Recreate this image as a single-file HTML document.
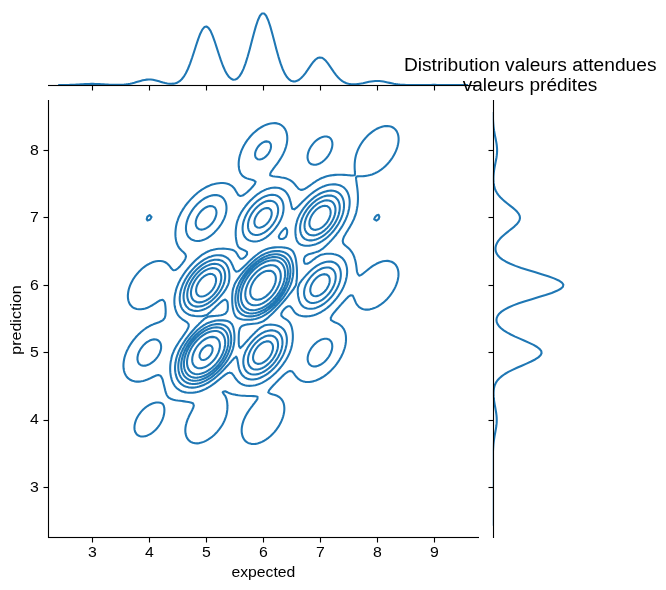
<!DOCTYPE html>
<html lang="fr"><head><meta charset="utf-8"><title>Distribution valeurs attendues / valeurs prédites</title><style>html,body{margin:0;padding:0;background:#fff}body{width:666px;height:590px;overflow:hidden}.w{width:666px;height:590px;will-change:transform}svg{display:block}text{font-family:"Liberation Sans",sans-serif;fill:#000}.k{fill:none;stroke:#1f77b4;stroke-width:2.08;stroke-linejoin:round;stroke-linecap:butt}.ax{fill:#000}</style></head><body>
<div class="w"><svg width="666" height="590" viewBox="0 0 666 590">
<rect width="666" height="590" fill="#fff"/>
<defs><clipPath id="cj"><rect x="48.15" y="100.70" width="429.80" height="436.42"/></clipPath>
<clipPath id="cx"><rect x="48.15" y="9.85" width="429.80" height="75.25"/></clipPath>
<clipPath id="cy"><rect x="492.77" y="100.70" width="74.10" height="436.42"/></clipPath></defs>
<g class="k" clip-path="url(#cj)">
<path d="M192.94,442.82L195.02,443.27L197.18,443.35L199.34,443.11L200.51,442.82L201.50,442.60L203.66,441.87L205.82,440.87L206.25,440.63L207.98,439.68L209.83,438.43L210.13,438.23L212.29,436.58L212.69,436.24L214.45,434.67L215.09,434.05L216.61,432.47L217.19,431.85L218.77,429.95L219.01,429.66L220.63,427.47L220.93,427.00L222.08,425.27L223.09,423.43L223.30,423.08L224.39,420.89L225.25,418.69L225.25,418.68L226.03,416.50L226.60,414.31L227.01,412.12L227.28,409.92L227.41,407.73L227.41,407.73L227.42,405.54L227.41,405.46L227.28,403.34L226.99,401.15L226.49,398.96L225.64,396.76L225.25,395.95L224.15,394.57L223.09,393.00L222.73,392.38L223.09,391.79L225.25,391.20L227.41,392.19L227.72,392.38L229.57,393.33L231.73,394.00L233.89,394.46L234.48,394.57L236.05,394.87L238.21,395.20L240.37,395.47L242.53,395.67L244.69,395.81L246.85,395.92L249.01,395.99L251.17,396.05L253.33,396.14L255.49,396.32L257.53,396.76L257.46,398.96L255.97,401.15L255.49,401.68L254.27,403.34L253.33,404.48L252.57,405.54L251.17,407.39L250.93,407.73L249.36,409.92L249.01,410.45L247.89,412.12L246.85,413.88L246.59,414.31L245.39,416.50L244.69,418.03L244.36,418.69L243.46,420.89L242.78,423.08L242.53,424.13L242.23,425.27L241.84,427.47L241.66,429.66L241.69,431.85L241.96,434.05L242.53,436.24L242.53,436.25L243.48,438.43L244.69,440.21L245.05,440.63L246.85,442.17L248.04,442.82L249.01,443.28L251.17,443.85L253.33,444.01L255.49,443.87L257.65,443.44L259.57,442.82L259.81,442.75L261.97,441.87L264.13,440.72L264.28,440.63L266.29,439.40L267.61,438.43L268.45,437.82L270.31,436.24L270.61,435.98L272.61,434.05L272.77,433.89L274.62,431.85L274.93,431.48L276.39,429.66L277.09,428.68L277.95,427.47L279.25,425.34L279.29,425.27L280.52,423.08L281.41,421.14L281.53,420.89L282.44,418.69L283.15,416.50L283.57,414.77L283.70,414.31L284.11,412.12L284.33,409.92L284.34,407.73L284.13,405.54L283.63,403.34L283.57,403.18L282.75,401.15L281.41,399.10L281.29,398.96L279.25,397.09L278.71,396.76L277.09,395.83L274.93,395.01L273.22,394.57L272.77,394.41L270.61,393.72L268.45,392.59L268.24,392.38L268.45,392.08L269.18,390.18L270.61,388.54L270.94,387.99L272.77,386.02L272.94,385.80L274.93,383.72L275.02,383.61L277.09,381.48L277.15,381.41L279.25,379.29L279.32,379.22L281.41,377.16L281.55,377.03L283.57,375.12L283.91,374.83L285.73,373.26L286.65,372.64L287.89,371.73L290.05,370.90L292.21,371.55L293.16,372.64L294.37,374.12L294.82,374.83L296.51,377.03L296.53,377.05L298.69,379.15L298.78,379.22L300.85,380.54L303.01,381.36L303.22,381.41L305.17,381.85L307.33,382.03L309.49,381.94L311.65,381.63L312.50,381.41L313.81,381.13L315.97,380.46L318.12,379.56L318.79,379.22L320.28,378.52L322.44,377.26L322.79,377.03L324.60,375.87L325.97,374.83L326.76,374.24L328.65,372.64L328.92,372.41L331.01,370.45L331.08,370.37L333.11,368.25L333.24,368.11L335.02,366.06L335.40,365.57L336.74,363.87L337.56,362.68L338.28,361.67L339.64,359.48L339.72,359.33L340.93,357.29L341.88,355.32L342.00,355.10L343.02,352.90L343.83,350.71L344.04,350.01L344.57,348.52L345.16,346.32L345.59,344.13L345.87,341.94L346.01,339.74L345.99,337.55L345.80,335.36L345.39,333.16L344.69,330.97L344.04,329.59L343.61,328.78L341.96,326.59L341.88,326.50L339.72,324.67L339.27,324.39L337.56,323.38L335.40,322.44L334.72,322.20L333.24,321.45L331.08,320.12L330.94,320.01L330.75,317.81L331.08,317.27L331.89,315.62L333.24,313.72L333.43,313.43L335.20,311.23L335.40,311.01L337.09,309.04L337.56,308.51L339.02,306.85L339.72,306.03L340.97,304.66L341.88,303.57L342.93,302.46L344.04,301.15L344.94,300.27L346.20,298.82L347.08,298.08L348.36,296.71L349.69,295.88L350.52,295.17L352.68,295.47L352.90,295.88L353.90,298.08L354.84,300.27L354.84,300.28L355.73,302.46L357.00,304.65L357.01,304.66L358.90,306.85L359.16,307.08L361.32,308.48L362.83,309.04L363.48,309.26L365.64,309.61L367.80,309.62L369.96,309.35L371.17,309.04L372.12,308.83L374.28,308.11L376.44,307.13L376.93,306.85L378.60,305.96L380.58,304.66L380.76,304.54L382.92,302.93L383.46,302.46L385.08,301.06L385.89,300.27L387.24,298.90L388.00,298.08L389.40,296.42L389.84,295.88L391.46,293.69L391.56,293.54L392.92,291.50L393.72,290.10L394.19,289.30L395.30,287.11L395.88,285.72L396.24,284.92L397.04,282.72L397.66,280.53L398.04,278.67L398.11,278.34L398.42,276.15L398.51,273.95L398.37,271.76L398.04,269.97L397.96,269.57L397.20,267.37L395.94,265.18L395.88,265.10L393.74,262.99L393.72,262.97L391.56,261.77L389.40,261.13L387.24,260.90L385.08,260.99L382.92,261.33L380.76,261.93L378.60,262.78L378.17,262.99L376.44,263.79L374.28,265.04L374.07,265.18L372.12,266.43L370.82,267.37L369.96,268.00L367.99,269.57L367.80,269.72L365.64,271.51L365.30,271.76L363.48,273.29L362.47,273.95L361.32,274.89L359.16,275.71L357.79,273.95L357.03,271.76L357.00,271.65L356.75,269.57L356.49,267.37L356.19,265.18L355.82,262.99L355.34,260.79L354.84,259.05L354.73,258.60L354.04,256.41L353.08,254.21L352.68,253.49L351.83,252.02L350.52,250.28L350.12,249.83L348.36,248.06L347.85,247.64L346.20,246.23L345.17,245.44L344.04,244.26L343.23,243.25L342.71,241.06L343.15,238.86L344.00,236.67L344.04,236.60L345.28,234.48L346.20,232.82L346.54,232.28L347.91,230.09L348.36,229.29L349.28,227.90L350.47,225.70L350.52,225.60L351.80,223.51L352.68,221.57L352.83,221.32L353.95,219.13L354.73,216.93L354.84,216.56L355.58,214.74L356.23,212.55L356.70,210.35L357.00,208.43L357.06,208.16L357.45,205.97L357.70,203.77L357.87,201.58L357.95,199.39L357.95,197.19L357.89,195.00L357.76,192.81L357.57,190.62L357.33,188.42L357.03,186.23L357.00,186.00L356.75,184.04L356.46,181.84L356.17,179.65L356.02,177.46L357.00,176.37L359.16,176.25L361.32,176.21L363.48,176.11L365.64,175.90L367.80,175.54L368.93,175.26L369.96,175.05L372.12,174.42L374.28,173.58L375.32,173.07L376.44,172.57L378.60,171.36L379.31,170.88L380.76,169.95L382.40,168.69L382.92,168.29L384.97,166.49L385.08,166.39L387.18,164.30L387.24,164.23L389.12,162.11L389.40,161.76L390.85,159.91L391.56,158.89L392.37,157.72L393.68,155.53L393.72,155.46L394.89,153.33L395.88,151.14L395.88,151.14L396.78,148.95L397.48,146.75L398.00,144.56L398.04,144.35L398.40,142.37L398.60,140.18L398.58,137.98L398.32,135.79L398.04,134.67L397.75,133.60L396.77,131.40L395.88,130.09L395.11,129.21L393.72,128.00L391.95,127.02L391.56,126.83L389.40,126.20L387.24,125.99L385.08,126.09L382.92,126.48L381.15,127.02L380.76,127.13L378.60,127.96L376.44,129.05L376.18,129.21L374.28,130.32L372.75,131.40L372.12,131.84L369.97,133.60L369.96,133.60L367.80,135.59L367.60,135.79L365.64,137.87L365.54,137.98L363.71,140.18L363.48,140.48L362.08,142.37L361.32,143.54L360.65,144.56L359.41,146.75L359.16,147.26L358.29,148.95L357.37,151.14L357.00,152.20L356.57,153.33L355.91,155.53L355.41,157.72L355.05,159.91L354.84,161.87L354.81,162.11L354.66,164.30L354.63,166.49L354.69,168.69L354.82,170.88L354.84,171.42L354.97,173.07L354.84,174.90L354.65,175.26L352.68,175.49L350.52,175.37L349.28,175.26L348.36,175.20L346.20,175.01L344.04,174.86L341.88,174.75L339.72,174.72L337.56,174.75L335.40,174.88L333.24,175.10L332.25,175.26L331.08,175.40L328.92,175.75L326.76,176.24L324.60,176.94L323.41,177.46L322.44,177.78L320.28,178.71L318.72,179.65L318.12,179.94L315.97,181.22L315.11,181.84L313.81,182.65L311.97,184.04L311.65,184.25L309.49,185.79L308.89,186.23L307.33,187.27L305.59,188.42L305.17,188.69L303.01,189.63L300.85,189.90L298.69,188.87L298.26,188.42L296.53,186.43L296.39,186.23L294.65,184.04L294.37,183.73L292.43,181.84L292.21,181.66L290.05,180.17L289.00,179.65L287.89,179.11L285.73,178.34L283.57,177.81L281.49,177.46L281.41,177.44L279.25,177.09L277.09,176.82L274.93,176.55L272.77,176.21L270.61,175.54L270.14,175.26L270.38,173.07L270.61,172.79L271.77,170.88L272.77,169.61L273.39,168.69L274.93,166.64L275.03,166.49L276.69,164.30L277.09,163.76L278.28,162.11L279.25,160.65L279.75,159.91L281.11,157.72L281.41,157.18L282.39,155.53L283.46,153.33L283.57,153.09L284.50,151.14L285.33,148.95L285.73,147.61L286.02,146.75L286.61,144.56L287.00,142.37L287.24,140.18L287.30,137.98L287.17,135.79L286.81,133.60L286.16,131.40L285.73,130.42L285.14,129.21L283.57,127.04L283.55,127.02L281.41,125.17L280.79,124.82L279.25,124.04L277.09,123.40L274.93,123.14L272.77,123.17L270.61,123.45L268.45,123.96L266.29,124.72L266.07,124.82L264.13,125.62L261.97,126.77L261.57,127.02L259.81,128.06L258.21,129.21L257.65,129.60L255.49,131.35L255.43,131.40L253.33,133.29L253.02,133.60L251.17,135.50L250.91,135.79L249.04,137.98L249.01,138.02L247.33,140.18L246.85,140.87L245.81,142.37L244.69,144.23L244.48,144.56L243.26,146.75L242.53,148.32L242.22,148.95L241.27,151.14L240.52,153.33L240.37,153.87L239.85,155.53L239.33,157.72L238.96,159.91L238.74,162.11L238.67,164.30L238.76,166.49L239.04,168.69L239.58,170.88L240.37,172.86L240.47,173.07L241.98,175.26L242.53,175.85L244.69,177.38L244.86,177.46L246.85,178.38L249.01,179.05L251.17,179.54L251.77,179.65L253.33,180.20L255.49,181.64L255.64,181.84L255.49,182.10L254.75,184.04L253.33,185.82L253.07,186.23L251.17,188.31L251.08,188.42L249.01,190.50L248.89,190.62L246.85,192.47L246.45,192.81L244.69,194.21L243.44,195.00L242.53,195.58L240.37,196.07L238.37,195.00L238.21,194.88L236.94,192.81L236.05,191.35L235.66,190.62L234.26,188.42L233.89,187.96L232.22,186.23L231.73,185.83L229.57,184.56L228.13,184.04L227.41,183.80L225.25,183.32L223.09,183.08L220.93,183.05L218.77,183.19L216.61,183.51L214.45,184.01L214.36,184.04L212.29,184.57L210.13,185.33L208.15,186.23L207.98,186.30L205.82,187.31L203.95,188.42L203.66,188.58L201.50,189.92L200.55,190.62L199.34,191.46L197.65,192.81L197.18,193.18L195.10,195.00L195.02,195.08L192.86,197.13L192.79,197.19L190.70,199.37L190.68,199.39L188.73,201.58L188.54,201.81L186.91,203.77L186.38,204.50L185.25,205.97L184.22,207.52L183.75,208.16L182.38,210.35L182.06,210.95L181.08,212.55L180.01,214.74L179.90,215.00L178.93,216.93L178.09,219.13L177.74,220.26L177.33,221.32L176.67,223.51L176.18,225.70L175.83,227.90L175.59,230.09L175.58,230.28L175.43,232.28L175.40,234.48L175.52,236.67L175.58,237.13L175.76,238.86L176.17,241.06L176.79,243.25L177.72,245.44L177.74,245.47L178.99,247.64L179.90,248.82L180.85,249.83L182.06,251.00L183.29,252.02L184.22,252.95L185.36,254.21L185.99,256.41L185.42,258.60L184.33,260.79L184.22,260.96L182.73,262.99L182.06,263.87L180.91,265.18L179.90,266.39L178.84,267.37L177.74,268.50L176.14,269.57L175.58,270.01L173.42,270.26L172.51,269.57L171.26,268.37L170.61,267.37L169.10,265.41L168.91,265.18L166.94,263.28L166.51,262.99L164.78,262.00L162.62,261.30L160.46,261.01L158.30,261.03L156.14,261.31L153.98,261.82L151.82,262.58L150.94,262.99L149.66,263.54L147.50,264.73L146.82,265.18L145.34,266.12L143.71,267.37L143.18,267.78L141.14,269.57L141.02,269.67L138.94,271.76L138.86,271.84L137.00,273.95L136.70,274.32L135.28,276.15L134.54,277.22L133.77,278.34L132.47,280.53L132.38,280.70L131.28,282.72L130.32,284.92L130.22,285.18L129.46,287.11L128.79,289.30L128.31,291.50L128.06,293.28L128.00,293.69L127.86,295.88L127.95,298.08L128.06,298.76L128.31,300.27L128.99,302.46L130.16,304.66L130.22,304.75L132.16,306.85L132.38,307.04L134.54,308.33L136.70,309.02L136.83,309.04L138.86,309.33L141.02,309.30L142.79,309.04L143.18,308.99L145.34,308.47L147.50,307.70L149.29,306.85L149.66,306.68L151.82,305.54L153.24,304.66L153.98,304.21L156.14,302.79L156.67,302.46L158.30,301.41L160.31,300.27L160.46,300.18L162.62,299.72L163.37,300.27L164.78,302.24L164.83,302.46L165.20,304.66L165.45,306.85L165.61,309.04L165.68,311.23L165.63,313.43L165.39,315.62L164.78,317.79L164.77,317.81L163.06,320.01L162.62,320.34L160.46,321.53L158.94,322.20L158.30,322.42L156.14,323.16L153.98,324.01L153.16,324.39L151.82,324.92L149.66,325.98L148.67,326.59L147.50,327.21L145.34,328.67L145.20,328.78L143.18,330.23L142.31,330.97L141.02,332.04L139.82,333.16L138.86,334.06L137.59,335.36L136.70,336.30L135.59,337.55L134.54,338.81L133.77,339.74L132.38,341.63L132.15,341.94L130.64,344.13L130.22,344.82L129.27,346.32L128.10,348.52L128.06,348.61L126.98,350.71L126.08,352.90L125.90,353.42L125.24,355.10L124.58,357.29L124.08,359.48L123.74,361.60L123.73,361.67L123.49,363.87L123.43,366.06L123.57,368.25L123.74,369.33L123.92,370.45L124.52,372.64L125.49,374.83L125.90,375.52L126.97,377.03L128.06,378.19L129.36,379.22L130.22,379.80L132.38,380.80L134.54,381.36L134.98,381.41L136.70,381.62L138.86,381.61L140.45,381.41L141.02,381.35L143.18,380.93L145.34,380.31L147.50,379.48L148.07,379.22L149.66,378.57L151.82,377.53L152.84,377.03L153.98,376.49L156.14,375.58L158.30,375.04L160.46,375.69L161.40,377.03L162.48,379.22L162.62,379.59L163.06,381.41L163.57,383.61L164.09,385.80L164.65,387.99L164.78,388.53L165.17,390.18L165.77,392.38L166.61,394.57L166.94,395.28L167.89,396.76L169.10,397.92L171.22,398.96L171.26,398.97L173.42,399.69L175.58,400.18L177.74,400.55L179.90,400.84L182.06,401.09L182.67,401.15L184.22,401.36L186.38,401.66L188.54,401.99L190.70,402.46L192.86,403.24L193.05,403.34L193.84,405.54L193.25,407.73L192.86,408.54L192.23,409.92L191.11,412.12L190.70,412.90L189.96,414.31L188.91,416.50L188.54,417.37L187.93,418.69L187.09,420.89L186.43,423.08L186.38,423.30L185.87,425.27L185.49,427.47L185.32,429.66L185.36,431.85L185.65,434.05L186.27,436.24L186.38,436.50L187.32,438.43L188.54,440.05L189.12,440.63L190.70,441.83L192.86,442.80Z M140.13,436.24L141.02,436.47L143.18,436.52L144.85,436.24L145.34,436.16L147.50,435.43L149.66,434.39L150.20,434.05L151.82,433.02L153.32,431.85L153.98,431.31L155.72,429.66L156.14,429.23L157.69,427.47L158.30,426.68L159.33,425.27L160.46,423.48L160.70,423.08L161.84,420.89L162.62,419.03L162.76,418.69L163.48,416.50L164.00,414.31L164.31,412.12L164.41,409.92L164.25,407.73L163.66,405.54L162.62,403.93L161.83,403.34L160.46,402.72L158.30,402.44L156.14,402.58L153.98,403.03L153.08,403.34L151.82,403.75L149.66,404.73L148.31,405.54L147.50,406.01L145.34,407.58L145.17,407.73L143.18,409.50L142.77,409.92L141.02,411.84L140.79,412.12L139.15,414.31L138.86,414.75L137.77,416.50L136.70,418.55L136.63,418.69L135.72,420.89L135.04,423.08L134.60,425.27L134.54,426.04L134.43,427.47L134.54,429.13L134.58,429.66L135.20,431.85L136.49,434.05L136.70,434.29L138.86,435.84Z M146.74,219.13L147.50,220.41L149.66,219.85L150.37,219.13L151.52,216.93L149.66,215.09L147.50,216.67L147.31,216.93Z M374.20,219.13L374.28,219.42L376.44,220.59L378.60,219.15L378.62,219.13L379.40,216.93L378.60,214.84L376.44,215.59L375.18,216.93L374.28,218.85Z M311.54,164.30L311.65,164.35L313.81,164.83L315.97,164.74L317.62,164.30L318.12,164.17L320.28,163.20L321.97,162.11L322.44,161.80L324.60,159.98L324.67,159.91L326.72,157.72L326.76,157.67L328.37,155.53L328.92,154.68L329.74,153.33L330.83,151.14L331.08,150.46L331.65,148.95L332.19,146.75L332.43,144.56L332.30,142.37L331.67,140.18L331.08,139.15L330.04,137.98L328.92,137.19L326.76,136.52L324.60,136.52L322.44,136.99L320.28,137.87L320.08,137.98L318.12,139.14L316.74,140.18L315.97,140.79L314.31,142.37L313.81,142.89L312.40,144.56L311.65,145.59L310.86,146.75L309.62,148.95L309.49,149.25L308.67,151.14L308.00,153.33L307.61,155.53L307.54,157.72L307.90,159.91L308.90,162.11L309.49,162.84Z M185.64,392.38L186.38,392.54L188.54,392.79L190.70,392.83L192.86,392.70L195.02,392.38L195.03,392.38L197.18,392.00L199.34,391.46L201.50,390.72L202.68,390.18L203.66,389.83L205.82,388.84L207.27,387.99L207.98,387.64L210.13,386.34L210.90,385.80L212.29,384.92L214.03,383.61L214.45,383.31L216.61,381.63L216.87,381.41L218.77,379.92L219.62,379.22L220.93,378.14L222.30,377.03L223.09,376.36L225.05,374.83L225.25,374.67L227.41,373.33L229.40,372.64L229.57,372.57L229.87,372.64L231.73,373.23L233.10,374.83L233.89,375.84L234.60,377.03L236.05,379.09L236.14,379.22L238.03,381.41L238.21,381.59L240.37,383.33L240.85,383.61L242.53,384.52L244.69,385.27L246.85,385.69L248.19,385.80L249.01,385.87L251.17,385.82L251.35,385.80L253.33,385.59L255.49,385.19L257.65,384.60L259.81,383.76L260.15,383.61L261.97,382.86L264.13,381.70L264.59,381.41L266.29,380.44L268.03,379.22L268.45,378.95L270.61,377.31L270.95,377.03L272.77,375.53L273.54,374.83L274.93,373.56L275.86,372.64L277.09,371.38L277.97,370.45L279.25,369.00L279.90,368.25L281.41,366.37L281.66,366.06L283.31,363.87L283.57,363.48L284.87,361.67L285.73,360.24L286.23,359.48L287.48,357.29L287.89,356.42L288.62,355.10L289.58,352.90L290.05,351.58L290.42,350.71L291.17,348.52L291.73,346.32L292.13,344.13L292.21,343.60L292.50,341.94L292.74,339.74L292.85,337.55L292.85,335.36L292.72,333.16L292.46,330.97L292.21,329.59L292.06,328.78L291.52,326.59L290.67,324.39L290.05,323.22L289.35,322.20L287.89,320.64L287.05,320.01L285.73,319.07L283.57,317.86L283.49,317.81L281.41,315.76L281.32,315.62L281.31,313.43L281.41,313.24L282.52,311.23L283.57,309.82L284.27,309.04L285.73,307.63L286.95,306.85L287.89,306.27L290.05,306.28L290.72,306.85L292.21,308.53L292.51,309.04L293.91,311.23L294.37,311.84L295.83,313.43L296.53,313.99L298.69,315.18L300.04,315.62L300.85,315.85L303.01,316.23L305.17,316.38L307.33,316.34L309.49,316.12L311.65,315.70L311.94,315.62L313.81,315.18L315.97,314.49L318.12,313.55L318.36,313.43L320.28,312.53L322.43,311.23L322.44,311.23L324.60,309.85L325.66,309.04L326.76,308.23L328.39,306.85L328.92,306.40L330.80,304.66L331.08,304.38L332.96,302.46L333.24,302.16L334.93,300.27L335.40,299.69L336.73,298.08L337.56,296.94L338.36,295.88L339.72,293.79L339.79,293.69L341.18,291.50L341.88,290.16L342.38,289.30L343.46,287.11L344.04,285.64L344.38,284.92L345.21,282.72L345.85,280.53L346.20,278.97L346.37,278.34L346.80,276.15L347.06,273.95L347.16,271.76L347.08,269.57L346.81,267.37L346.30,265.18L346.20,264.88L345.55,262.99L344.40,260.79L344.04,260.27L342.68,258.60L341.88,257.81L339.96,256.41L339.72,256.25L337.56,255.17L335.40,254.49L333.98,254.21L333.24,254.04L331.08,253.77L328.92,253.67L326.76,253.74L324.60,254.02L323.80,254.21L322.44,254.45L320.28,255.05L318.12,256.38L318.10,256.41L315.97,257.62L314.86,258.60L313.81,259.30L312.00,260.79L311.65,261.05L309.49,262.56L308.73,262.99L307.33,263.70L305.17,263.81L304.47,262.99L303.86,260.79L304.09,258.60L305.11,256.41L305.17,256.35L307.33,254.84L308.59,254.21L309.49,253.93L311.65,253.40L313.81,252.88L315.97,252.13L316.19,252.02L318.12,251.48L320.28,250.35L320.85,249.83L322.44,248.90L323.78,247.64L324.60,247.06L326.26,245.44L326.76,245.04L328.53,243.25L328.92,242.90L330.67,241.06L331.08,240.65L332.69,238.86L333.24,238.26L334.61,236.67L335.40,235.72L336.41,234.48L337.56,232.96L338.08,232.28L339.62,230.09L339.72,229.94L341.13,227.90L341.88,226.63L342.48,225.70L343.70,223.51L344.04,222.80L344.85,221.32L345.84,219.13L346.20,218.17L346.75,216.93L347.55,214.74L348.17,212.55L348.36,211.70L348.73,210.35L349.18,208.16L349.48,205.97L349.64,203.77L349.66,201.58L349.51,199.39L349.18,197.19L348.61,195.00L348.36,194.34L347.79,192.81L346.57,190.62L346.20,190.09L344.78,188.42L344.04,187.73L341.88,186.25L341.83,186.23L339.72,185.25L337.56,184.66L335.40,184.36L333.24,184.30L331.08,184.44L328.92,184.77L326.76,185.28L324.60,186.01L324.10,186.23L322.44,186.84L320.28,187.86L319.31,188.42L318.12,189.04L315.97,190.40L315.66,190.62L313.81,191.84L312.55,192.81L311.65,193.48L309.82,195.00L309.49,195.28L307.34,197.19L307.33,197.21L305.17,199.22L304.99,199.39L303.01,201.34L302.74,201.58L300.85,203.53L300.57,203.77L298.69,205.72L298.36,205.97L296.53,207.77L295.83,208.16L294.37,209.33L292.21,208.67L292.05,208.16L291.48,205.97L290.98,203.77L290.42,201.58L290.05,200.36L289.80,199.39L289.06,197.19L287.99,195.00L287.89,194.83L286.56,192.81L285.73,191.85L284.38,190.62L283.57,189.99L281.41,188.81L280.29,188.42L279.25,188.07L277.09,187.67L274.93,187.55L272.77,187.69L270.61,188.06L269.29,188.42L268.45,188.62L266.29,189.33L264.13,190.29L263.54,190.62L261.97,191.39L259.81,192.74L259.71,192.81L257.65,194.18L256.60,195.00L255.49,195.85L253.93,197.19L253.33,197.72L251.57,199.39L251.17,199.78L249.42,201.58L249.01,202.03L247.45,203.77L246.85,204.51L245.64,205.97L244.69,207.27L244.00,208.16L242.56,210.35L242.53,210.40L241.14,212.55L240.37,214.06L239.97,214.74L238.90,216.93L238.21,218.81L238.07,219.13L237.27,221.32L236.71,223.51L236.30,225.70L236.05,227.61L236.00,227.90L235.78,230.09L235.68,232.28L235.70,234.48L235.82,236.67L236.05,238.79L236.06,238.86L236.38,241.06L236.86,243.25L237.62,245.44L238.21,246.57L239.15,247.64L240.37,248.56L242.53,249.51L243.39,249.83L244.69,250.45L246.85,251.85L247.02,252.02L247.08,254.21L246.85,254.57L245.54,256.41L244.69,257.23L242.72,258.60L242.53,258.71L240.37,258.63L240.33,258.60L238.43,256.41L238.21,256.04L237.30,254.21L236.05,252.31L235.80,252.02L233.89,250.50L232.02,249.83L231.73,249.75L229.57,249.25L227.41,248.93L225.25,248.75L223.09,248.66L220.93,248.68L218.77,248.81L216.61,249.06L214.45,249.46L213.08,249.83L212.29,249.99L210.13,250.60L207.98,251.48L206.97,252.02L205.82,252.53L203.66,253.81L203.11,254.21L201.50,255.23L200.05,256.41L199.34,256.92L197.41,258.60L197.18,258.79L195.03,260.79L195.02,260.80L192.86,262.95L192.82,262.99L190.77,265.18L190.70,265.26L188.84,267.37L188.54,267.74L187.02,269.57L186.38,270.43L185.34,271.76L184.22,273.41L183.82,273.95L182.39,276.15L182.06,276.72L181.02,278.34L179.90,280.53L179.90,280.54L178.73,282.72L177.84,284.92L177.74,285.20L176.92,287.11L176.21,289.30L175.66,291.50L175.58,291.93L175.14,293.69L174.75,295.88L174.50,298.08L174.38,300.27L174.39,302.46L174.54,304.66L174.85,306.85L175.36,309.04L175.58,309.71L176.06,311.23L177.06,313.43L177.74,314.54L178.49,315.62L179.90,317.23L180.54,317.81L182.06,319.07L183.51,320.01L184.22,320.50L186.38,321.86L186.92,322.20L188.54,324.15L188.68,324.39L188.67,326.59L188.54,326.89L187.75,328.78L186.54,330.97L186.38,331.21L185.04,333.16L184.22,334.39L183.52,335.36L182.07,337.55L182.06,337.56L180.46,339.74L179.90,340.64L178.96,341.94L177.74,344.00L177.65,344.13L176.23,346.32L175.58,347.66L175.04,348.52L173.95,350.71L173.42,352.16L173.05,352.90L172.20,355.10L171.62,357.29L171.26,359.17L171.18,359.48L170.72,361.67L170.43,363.87L170.25,366.06L170.18,368.25L170.21,370.45L170.35,372.64L170.62,374.83L171.04,377.03L171.26,377.85L171.58,379.22L172.30,381.41L173.35,383.61L173.42,383.72L174.69,385.80L175.58,386.90L176.62,387.99L177.74,388.99L179.54,390.18L179.90,390.41L182.06,391.45L184.22,392.11Z M311.81,366.06L313.81,366.49L315.97,366.38L317.15,366.06L318.12,365.80L320.28,364.82L321.82,363.87L322.44,363.46L324.60,361.70L324.63,361.67L326.74,359.48L326.76,359.45L328.40,357.29L328.92,356.48L329.76,355.10L330.83,352.90L331.08,352.20L331.62,350.71L332.12,348.52L332.31,346.32L332.11,344.13L331.37,341.94L331.08,341.47L329.40,339.74L328.92,339.43L326.76,338.74L324.60,338.71L322.44,339.16L321.00,339.74L320.28,340.04L318.12,341.29L317.25,341.94L315.97,342.95L314.69,344.13L313.81,345.04L312.69,346.32L311.65,347.71L311.08,348.52L309.80,350.71L309.49,351.39L308.80,352.90L308.11,355.10L307.70,357.29L307.64,359.48L308.01,361.67L309.03,363.87L309.49,364.44L311.65,366.01Z M139.13,363.87L141.02,365.24L143.18,365.78L145.34,365.66L147.50,365.06L149.66,364.08L150.00,363.87L151.82,362.69L153.11,361.67L153.98,360.92L155.43,359.48L156.14,358.67L157.27,357.29L158.30,355.74L158.72,355.10L159.83,352.90L160.46,351.11L160.61,350.71L161.06,348.52L161.14,346.32L160.79,344.13L160.46,343.27L159.76,341.94L158.30,340.45L156.85,339.74L156.14,339.50L153.98,339.36L151.82,339.74L151.81,339.74L149.66,340.58L147.50,341.79L147.30,341.94L145.34,343.44L144.60,344.13L143.18,345.57L142.53,346.32L141.02,348.31L140.88,348.52L139.60,350.71L138.86,352.30L138.59,352.90L137.90,355.10L137.50,357.29L137.46,359.48L137.90,361.67L138.86,363.55Z M190.56,238.86L190.70,238.97L192.86,240.12L195.02,240.73L197.18,240.95L199.34,240.86L201.50,240.50L203.66,239.86L205.82,238.87L205.82,238.86L207.98,237.71L209.42,236.67L210.13,236.19L212.21,234.48L212.29,234.41L214.45,232.39L214.56,232.28L216.61,230.10L216.62,230.09L218.48,227.90L218.77,227.51L220.15,225.70L220.93,224.51L221.62,223.51L222.87,221.32L223.09,220.85L224.00,219.13L224.87,216.93L225.25,215.66L225.57,214.74L226.11,212.55L226.41,210.35L226.51,208.16L226.40,205.97L226.02,203.77L225.30,201.58L225.25,201.48L224.11,199.39L223.09,198.14L222.03,197.19L220.93,196.43L218.77,195.51L216.61,195.11L214.45,195.08L212.29,195.35L210.13,195.89L207.98,196.69L206.95,197.19L205.82,197.72L203.66,199.00L203.09,199.39L201.50,200.49L200.16,201.58L199.34,202.26L197.72,203.77L197.18,204.30L195.62,205.97L195.02,206.67L193.79,208.16L192.86,209.44L192.20,210.35L190.82,212.55L190.70,212.76L189.58,214.74L188.56,216.93L188.54,217.00L187.66,219.13L186.96,221.32L186.45,223.51L186.38,223.98L186.09,225.70L185.94,227.90L186.02,230.09L186.38,232.23L186.39,232.28L187.11,234.48L188.35,236.67L188.54,236.91Z M281.41,239.04L280.28,238.86L279.25,238.18L278.77,236.67L279.25,235.43L279.66,234.48L281.13,232.28L281.41,231.89L283.07,230.09L283.57,229.47L285.73,227.90L285.73,227.90L285.73,227.90L287.07,230.09L287.18,232.28L286.82,234.48L285.99,236.67L285.73,237.03L283.57,238.63L282.64,238.86Z M255.88,157.72L257.65,159.17L259.81,159.49L261.97,158.97L264.13,157.88L264.34,157.72L266.29,156.10L266.84,155.53L268.45,153.58L268.62,153.33L269.82,151.14L270.61,149.17L270.69,148.95L271.04,146.75L270.86,144.56L270.61,143.90L269.50,142.37L268.45,141.68L266.29,141.38L264.13,141.87L263.14,142.37L261.97,143.01L259.98,144.56L259.81,144.72L258.04,146.75L257.65,147.30L256.65,148.95L255.65,151.14L255.49,151.76L255.13,153.33L255.10,155.53L255.49,156.94Z M183.91,385.80L184.22,385.97L186.38,386.84L188.54,387.35L190.70,387.59L192.86,387.61L195.02,387.44L197.18,387.08L199.34,386.54L201.41,385.80L201.50,385.77L203.66,384.97L205.82,383.91L206.35,383.61L207.98,382.77L210.08,381.41L210.13,381.38L212.29,379.95L213.25,379.22L214.45,378.33L216.02,377.03L216.61,376.54L218.52,374.83L218.77,374.60L220.83,372.64L220.93,372.54L223.02,370.45L223.09,370.36L225.10,368.25L225.25,368.08L227.13,366.06L227.41,365.70L229.11,363.87L229.57,363.25L231.08,361.67L231.73,360.76L233.10,359.48L233.89,358.35L235.48,357.29L236.05,356.48L236.68,357.29L237.37,359.48L237.74,361.67L238.11,363.87L238.21,364.35L238.46,366.06L238.95,368.25L239.65,370.45L240.37,372.04L240.65,372.64L242.07,374.83L242.53,375.38L244.32,377.03L244.69,377.31L246.85,378.48L249.01,379.14L249.57,379.22L251.17,379.44L253.33,379.43L254.92,379.22L255.49,379.15L257.65,378.68L259.81,377.97L261.92,377.03L261.97,377.01L264.13,375.92L265.86,374.83L266.29,374.57L268.45,373.05L268.96,372.64L270.61,371.32L271.58,370.45L272.77,369.35L273.86,368.25L274.93,367.12L275.88,366.06L277.09,364.59L277.67,363.87L279.25,361.67L279.25,361.67L280.73,359.48L281.41,358.29L282.01,357.29L283.13,355.10L283.57,354.08L284.13,352.90L284.97,350.71L285.63,348.52L285.73,348.09L286.20,346.32L286.61,344.13L286.84,341.94L286.90,339.74L286.76,337.55L286.38,335.36L285.73,333.23L285.71,333.16L284.65,330.97L283.57,329.46L282.94,328.78L281.41,327.45L279.92,326.59L279.25,326.22L277.09,325.41L274.93,324.94L272.77,324.69L270.61,324.63L268.45,324.73L266.29,325.00L264.13,325.59L262.48,326.59L261.97,326.81L259.81,328.24L259.29,328.78L257.65,330.05L256.76,330.97L255.49,332.09L254.46,333.16L253.33,334.25L252.29,335.36L251.17,336.52L250.19,337.55L249.01,338.86L248.16,339.74L246.85,341.26L246.17,341.94L244.69,343.70L244.19,344.13L242.53,346.09L242.11,346.32L240.37,348.08L239.15,346.32L238.83,344.13L238.74,341.94L238.71,339.74L238.72,337.55L238.78,335.36L238.91,333.16L239.18,330.97L239.75,328.78L240.37,327.57L241.21,326.59L242.53,325.72L244.69,324.94L246.85,324.45L247.22,324.39L249.01,324.18L251.17,323.97L253.33,323.76L255.49,323.51L257.65,323.18L259.81,322.60L260.69,322.20L261.97,321.83L264.13,320.75L264.93,320.01L266.29,319.19L267.74,317.81L268.45,317.31L270.20,315.62L270.61,315.29L272.50,313.43L272.77,313.19L274.70,311.23L274.93,311.02L276.83,309.04L277.09,308.78L278.89,306.85L279.25,306.47L280.90,304.66L281.41,304.07L282.85,302.46L283.57,301.59L284.75,300.27L285.73,299.01L286.58,298.08L287.89,296.34L288.32,295.88L289.98,293.69L290.05,293.57L291.76,291.50L292.21,290.72L293.47,289.30L294.37,287.50L294.82,287.11L295.97,284.92L296.36,282.72L296.53,281.07L296.64,280.53L296.88,278.34L296.98,276.15L297.01,273.95L296.99,271.76L296.92,269.57L296.79,267.37L296.60,265.18L296.53,264.58L296.37,262.99L296.08,260.79L295.68,258.60L295.14,256.41L294.37,254.24L294.36,254.21L293.27,252.02L292.21,250.69L291.14,249.83L290.05,249.15L287.89,248.31L285.73,247.81L284.55,247.64L283.57,247.48L281.41,247.26L279.25,247.17L277.09,247.20L274.93,247.35L272.88,247.64L272.77,247.65L270.61,247.97L268.45,248.45L266.29,249.16L264.89,249.83L264.13,250.11L261.97,251.17L260.73,252.02L259.81,252.54L257.65,254.15L257.58,254.21L255.49,255.78L254.80,256.41L253.33,257.61L252.27,258.60L251.17,259.57L249.88,260.79L249.01,261.61L247.58,262.99L246.85,263.71L245.32,265.18L244.69,265.82L243.03,267.37L242.53,267.89L240.61,269.57L240.37,269.81L238.21,271.28L236.05,271.66L234.29,269.57L233.89,268.92L233.33,267.37L232.45,265.18L231.73,263.72L231.40,262.99L230.07,260.79L229.57,260.16L228.11,258.60L227.41,258.01L225.25,256.67L224.59,256.41L223.09,255.84L220.93,255.37L218.77,255.20L216.61,255.27L214.45,255.56L212.29,256.07L211.30,256.41L210.13,256.75L207.98,257.59L206.01,258.60L205.82,258.69L203.66,259.89L202.34,260.79L201.50,261.34L199.36,262.99L199.34,263.00L197.18,264.80L196.77,265.18L195.02,266.83L194.49,267.37L192.86,269.11L192.45,269.57L190.70,271.67L190.62,271.76L188.93,273.95L188.54,274.52L187.38,276.15L186.38,277.80L186.03,278.34L184.78,280.53L184.22,281.70L183.68,282.72L182.70,284.92L182.06,286.70L181.89,287.11L181.14,289.30L180.57,291.50L180.15,293.69L179.90,295.73L179.87,295.88L179.72,298.08L179.75,300.27L179.90,301.65L179.98,302.46L180.41,304.66L181.14,306.85L182.06,308.65L182.28,309.04L183.97,311.23L184.22,311.49L186.38,313.22L186.73,313.43L188.54,314.40L190.70,315.17L192.74,315.62L192.86,315.65L195.02,316.01L197.18,316.20L199.34,316.26L201.50,316.19L203.66,315.87L204.27,315.62L205.82,315.31L207.98,314.21L208.55,313.43L210.13,312.35L211.12,311.23L212.29,310.29L213.48,309.04L214.45,308.20L215.79,306.85L216.61,306.10L218.11,304.66L218.77,304.04L220.52,302.46L220.93,302.08L223.09,300.40L223.49,300.27L225.25,299.56L226.36,300.27L227.41,301.85L227.54,302.46L227.81,304.66L227.90,306.85L227.77,309.04L227.41,310.77L227.26,311.23L225.66,313.43L225.25,313.72L223.09,314.64L220.93,315.17L218.77,315.55L218.26,315.62L216.61,315.78L214.45,315.96L212.29,316.14L210.13,316.35L207.98,316.68L206.27,317.81L205.82,317.97L203.66,319.42L203.26,320.01L201.50,321.40L200.85,322.20L199.34,323.53L198.60,324.39L197.18,325.75L196.45,326.59L195.02,328.05L194.39,328.78L192.86,330.45L192.42,330.97L190.70,332.99L190.55,333.16L188.75,335.36L188.54,335.63L187.02,337.55L186.38,338.45L185.42,339.74L184.22,341.58L183.97,341.94L182.56,344.13L182.06,345.04L181.27,346.32L180.14,348.52L179.90,349.07L179.05,350.71L178.15,352.90L177.74,354.13L177.34,355.10L176.62,357.29L176.07,359.48L175.66,361.67L175.58,362.29L175.31,363.87L175.09,366.06L175.02,368.25L175.11,370.45L175.37,372.64L175.58,373.65L175.80,374.83L176.44,377.03L177.40,379.22L177.74,379.80L178.75,381.41L179.90,382.80L180.72,383.61L182.06,384.71Z M303.55,306.85L305.17,307.81L307.33,308.54L309.49,308.83L311.65,308.79L313.81,308.47L315.97,307.90L318.12,307.07L318.57,306.85L320.28,306.05L322.44,304.76L322.59,304.66L324.60,303.28L325.62,302.46L326.76,301.53L328.14,300.27L328.92,299.52L330.31,298.08L331.08,297.20L332.20,295.88L333.24,294.52L333.86,293.69L335.31,291.50L335.40,291.33L336.62,289.30L337.56,287.39L337.71,287.11L338.68,284.92L339.45,282.72L339.72,281.72L340.08,280.53L340.54,278.34L340.80,276.15L340.85,273.95L340.67,271.76L340.19,269.57L339.72,268.31L339.32,267.37L337.86,265.18L337.56,264.85L335.40,263.11L335.17,262.99L333.24,262.12L331.08,261.64L328.92,261.53L326.76,261.71L324.60,262.18L322.44,262.92L322.30,262.99L320.28,263.84L318.12,265.05L317.92,265.18L315.97,266.42L314.69,267.37L313.81,268.03L311.97,269.57L311.65,269.85L309.58,271.76L309.49,271.85L307.39,273.95L307.33,274.02L305.34,276.15L305.17,276.37L303.41,278.34L303.01,278.92L301.57,280.53L300.85,281.77L299.92,282.72L298.91,284.92L298.69,285.80L298.04,287.11L297.77,289.30L297.75,291.50L297.87,293.69L298.13,295.88L298.54,298.08L298.69,298.59L299.11,300.27L299.97,302.46L300.85,303.98L301.30,304.66L303.01,306.45Z M303.55,245.44L305.17,245.68L307.33,245.75L309.49,245.61L310.51,245.44L311.65,245.29L313.81,244.83L315.97,244.16L318.09,243.25L318.12,243.23L320.28,242.22L322.18,241.06L322.44,240.90L324.60,239.45L325.34,238.86L326.76,237.76L327.98,236.67L328.92,235.83L330.28,234.48L331.08,233.65L332.33,232.28L333.24,231.21L334.16,230.09L335.40,228.42L335.79,227.90L337.27,225.70L337.56,225.22L338.62,223.51L339.72,221.39L339.76,221.32L340.85,219.13L341.72,216.93L341.88,216.43L342.51,214.74L343.13,212.55L343.59,210.35L343.89,208.16L344.03,205.97L343.99,203.77L343.74,201.58L343.21,199.39L342.32,197.19L341.88,196.43L340.90,195.00L339.72,193.73L338.54,192.81L337.56,192.17L335.40,191.25L333.24,190.78L331.08,190.64L328.92,190.77L326.76,191.13L324.60,191.71L322.44,192.54L321.88,192.81L320.28,193.52L318.12,194.73L317.71,195.00L315.97,196.10L314.49,197.19L313.81,197.70L311.79,199.39L311.65,199.51L309.49,201.52L309.42,201.58L307.33,203.77L307.32,203.77L305.42,205.97L305.17,206.29L303.68,208.16L303.01,209.15L302.14,210.35L300.85,212.52L300.83,212.55L299.56,214.74L298.69,216.69L298.56,216.93L297.62,219.13L296.92,221.32L296.53,222.93L296.36,223.51L295.89,225.70L295.59,227.90L295.43,230.09L295.41,232.28L295.53,234.48L295.81,236.67L296.31,238.86L296.53,239.55L297.12,241.06L298.66,243.25L298.69,243.27L300.85,244.71L303.01,245.36Z M251.08,241.06L251.17,241.08L253.33,241.42L255.49,241.44L257.65,241.16L258.02,241.06L259.81,240.64L261.97,239.85L263.75,238.86L264.13,238.68L266.29,237.29L267.05,236.67L268.45,235.60L269.65,234.48L270.61,233.61L271.90,232.28L272.77,231.37L273.89,230.09L274.93,228.83L275.67,227.90L277.09,225.93L277.25,225.70L278.69,223.51L279.25,222.51L279.95,221.32L281.01,219.13L281.41,218.10L281.91,216.93L282.64,214.74L283.15,212.55L283.46,210.35L283.57,208.61L283.60,208.16L283.57,207.36L283.52,205.97L283.18,203.77L282.51,201.58L281.41,199.43L281.38,199.39L279.44,197.19L279.25,197.03L277.09,195.73L274.93,195.05L274.54,195.00L272.77,194.80L270.61,194.90L270.07,195.00L268.45,195.28L266.29,195.91L264.13,196.81L263.41,197.19L261.97,197.92L259.81,199.30L259.69,199.39L257.65,200.87L256.81,201.58L255.49,202.72L254.40,203.77L253.33,204.86L252.31,205.97L251.17,207.33L250.49,208.16L249.01,210.22L248.91,210.35L247.49,212.55L246.85,213.72L246.27,214.74L245.23,216.93L244.69,218.32L244.35,219.13L243.63,221.32L243.10,223.51L242.76,225.70L242.60,227.90L242.64,230.09L242.94,232.28L243.56,234.48L244.65,236.67L244.69,236.73L246.59,238.86L246.85,239.09L249.01,240.38Z M197.15,227.90L197.18,227.93L199.34,229.29L201.50,229.62L203.66,229.27L205.82,228.44L206.75,227.90L207.98,227.14L209.76,225.70L210.13,225.37L211.87,223.51L212.29,222.99L213.48,221.32L214.45,219.68L214.76,219.13L215.66,216.93L216.26,214.74L216.50,212.55L216.25,210.35L215.23,208.16L214.45,207.30L212.29,206.19L210.13,206.05L207.98,206.54L205.82,207.48L204.74,208.16L203.66,208.89L201.95,210.35L201.50,210.79L199.95,212.55L199.34,213.35L198.40,214.74L197.18,216.93L197.18,216.94L196.35,219.13L195.83,221.32L195.67,223.51L196.03,225.70Z M189.91,383.61L190.70,383.78L192.86,383.98L195.02,383.92L197.18,383.61L197.21,383.61L199.34,383.17L201.50,382.52L203.66,381.64L204.12,381.41L205.82,380.66L207.98,379.44L208.32,379.22L210.13,378.12L211.65,377.03L212.29,376.58L214.45,374.84L214.47,374.83L216.61,373.00L217.00,372.64L218.77,370.94L219.26,370.45L220.93,368.67L221.32,368.25L223.09,366.17L223.19,366.06L224.95,363.87L225.25,363.43L226.58,361.67L227.41,360.35L228.03,359.48L229.30,357.29L229.57,356.73L230.51,355.10L231.46,352.90L231.73,352.12L232.34,350.71L233.04,348.52L233.54,346.32L233.89,344.21L233.91,344.13L234.24,341.94L234.42,339.74L234.48,337.55L234.44,335.36L234.28,333.16L233.99,330.97L233.89,330.39L233.60,328.78L233.02,326.59L232.04,324.39L231.73,323.91L229.93,322.20L229.57,321.97L227.41,321.08L225.25,320.63L223.09,320.40L220.93,320.32L218.77,320.38L216.61,320.57L214.45,320.90L212.29,321.40L210.13,322.15L210.01,322.20L207.98,322.94L205.82,324.03L205.25,324.39L203.66,325.27L201.82,326.59L201.50,326.79L199.34,328.46L198.98,328.78L197.18,330.31L196.49,330.97L195.02,332.38L194.26,333.16L192.86,334.66L192.24,335.36L190.70,337.18L190.39,337.55L188.69,339.74L188.54,339.96L187.09,341.94L186.38,343.05L185.65,344.13L184.38,346.32L184.22,346.64L183.15,348.52L182.15,350.71L182.06,350.94L181.16,352.90L180.37,355.10L179.90,356.74L179.71,357.29L179.12,359.48L178.69,361.67L178.42,363.87L178.29,366.06L178.32,368.25L178.53,370.45L178.95,372.64L179.66,374.83L179.90,375.36L180.69,377.03L182.06,379.01L182.23,379.22L184.22,381.11L184.65,381.41L186.38,382.47L188.54,383.31Z M247.90,372.64L249.01,373.37L251.17,374.20L253.33,374.54L255.49,374.50L257.65,374.15L259.81,373.53L261.95,372.64L261.97,372.63L264.13,371.53L265.82,370.45L266.29,370.15L268.45,368.53L268.77,368.25L270.61,366.64L271.20,366.06L272.77,364.43L273.27,363.87L274.93,361.84L275.06,361.67L276.64,359.48L277.09,358.76L278.01,357.29L279.17,355.10L279.25,354.93L280.20,352.90L281.01,350.71L281.41,349.34L281.67,348.52L282.15,346.32L282.42,344.13L282.48,341.94L282.28,339.74L281.76,337.55L281.41,336.68L280.78,335.36L279.25,333.31L279.09,333.16L277.09,331.69L275.36,330.97L274.93,330.81L272.77,330.40L270.61,330.37L268.45,330.66L267.34,330.97L266.29,331.23L264.13,332.05L262.04,333.16L261.97,333.20L259.81,334.54L258.74,335.36L257.65,336.18L256.09,337.55L255.49,338.09L253.83,339.74L253.33,340.27L251.84,341.94L251.17,342.76L250.07,344.13L249.01,345.65L248.52,346.32L247.18,348.52L246.85,349.16L245.99,350.71L245.06,352.90L244.69,354.04L244.30,355.10L243.74,357.29L243.41,359.48L243.29,361.67L243.39,363.87L243.77,366.06L244.49,368.25L244.69,368.67L245.72,370.45L246.85,371.77Z M237.30,317.81L238.21,318.33L240.37,319.09L242.53,319.51L244.69,319.73L246.85,319.82L249.01,319.78L251.17,319.63L253.33,319.35L255.49,318.93L257.65,318.30L258.90,317.81L259.81,317.52L261.97,316.62L263.73,315.62L264.13,315.43L266.29,314.15L267.26,313.43L268.45,312.64L270.18,311.23L270.61,310.91L272.73,309.04L272.77,309.01L274.93,306.99L275.07,306.85L277.09,304.79L277.22,304.66L279.20,302.46L279.25,302.40L281.08,300.27L281.41,299.85L282.85,298.08L283.57,297.06L284.47,295.88L285.73,293.92L285.90,293.69L287.31,291.50L287.89,290.37L288.54,289.30L289.62,287.11L290.05,286.00L290.57,284.92L291.39,282.72L291.99,280.53L292.21,279.47L292.51,278.34L292.93,276.15L293.20,273.95L293.33,271.76L293.34,269.57L293.22,267.37L292.96,265.18L292.51,262.99L292.21,261.97L291.87,260.79L290.96,258.60L290.05,257.06L289.60,256.41L287.89,254.56L287.46,254.21L285.73,253.03L283.57,252.11L283.27,252.02L281.41,251.49L279.25,251.14L277.09,251.03L274.93,251.11L272.77,251.37L270.61,251.84L270.00,252.02L268.45,252.41L266.29,253.15L264.13,254.16L264.04,254.21L261.97,255.21L260.09,256.41L259.81,256.57L257.65,258.00L256.89,258.60L255.49,259.63L254.12,260.79L253.33,261.44L251.64,262.99L251.17,263.41L249.36,265.18L249.01,265.53L247.22,267.37L246.85,267.78L245.20,269.57L244.69,270.17L243.28,271.76L242.53,272.73L241.47,273.95L240.37,275.48L239.79,276.15L238.29,278.34L238.21,278.48L236.72,280.53L236.05,281.88L235.44,282.72L234.40,284.92L233.89,286.62L233.66,287.11L232.98,289.30L232.60,291.50L232.37,293.69L232.25,295.88L232.19,298.08L232.21,300.27L232.29,302.46L232.45,304.66L232.70,306.85L233.04,309.04L233.52,311.23L233.89,312.55L234.17,313.43L235.16,315.62L236.05,316.81Z M189.30,309.04L190.70,309.83L192.86,310.56L195.02,310.91L197.18,310.95L199.34,310.75L201.50,310.30L203.66,309.57L204.78,309.04L205.82,308.61L207.98,307.42L208.81,306.85L210.13,306.01L211.87,304.66L212.29,304.33L214.45,302.46L214.45,302.46L216.61,300.42L216.77,300.27L218.77,298.18L218.87,298.08L220.82,295.88L220.93,295.73L222.65,293.69L223.09,293.05L224.34,291.50L225.25,289.99L225.79,289.30L227.01,287.11L227.41,286.09L228.04,284.92L228.76,282.72L229.15,280.53L229.36,278.34L229.42,276.15L229.33,273.95L229.08,271.76L228.62,269.57L227.88,267.37L227.41,266.41L226.77,265.18L225.25,263.20L225.04,262.99L223.09,261.44L221.81,260.79L220.93,260.41L218.77,259.86L216.61,259.68L214.45,259.79L212.29,260.17L210.20,260.79L210.13,260.81L207.98,261.61L205.82,262.67L205.28,262.99L203.66,263.91L201.82,265.18L201.50,265.40L199.34,267.10L199.02,267.37L197.18,269.03L196.63,269.57L195.02,271.24L194.54,271.76L192.86,273.77L192.71,273.95L191.06,276.15L190.70,276.69L189.58,278.34L188.54,280.15L188.31,280.53L187.15,282.72L186.38,284.51L186.19,284.92L185.32,287.11L184.66,289.30L184.22,291.23L184.15,291.50L183.76,293.69L183.57,295.88L183.59,298.08L183.84,300.27L184.22,301.86L184.37,302.46L185.27,304.66L186.38,306.39L186.74,306.85L188.54,308.55Z M309.64,302.46L311.65,302.93L313.81,302.94L315.97,302.57L316.29,302.46L318.12,301.87L320.28,300.86L321.26,300.27L322.44,299.55L324.41,298.08L324.60,297.92L326.76,295.96L326.84,295.88L328.83,293.69L328.92,293.58L330.52,291.50L331.08,290.64L331.94,289.30L333.12,287.11L333.24,286.84L334.10,284.92L334.85,282.72L335.38,280.53L335.40,280.36L335.68,278.34L335.70,276.15L335.40,274.08L335.38,273.95L334.56,271.76L333.24,269.85L332.95,269.57L331.08,268.28L328.92,267.57L326.76,267.43L324.60,267.70L322.44,268.30L320.28,269.23L319.69,269.57L318.12,270.45L316.25,271.76L315.97,271.97L313.81,273.79L313.63,273.95L311.65,275.97L311.48,276.15L309.67,278.34L309.49,278.59L308.12,280.53L307.33,281.90L306.83,282.72L305.79,284.92L305.17,286.68L305.00,287.11L304.43,289.30L304.12,291.50L304.08,293.69L304.37,295.88L305.06,298.08L305.17,298.29L306.46,300.27L307.33,301.13L309.49,302.42Z M304.75,238.86L305.17,239.13L307.33,239.99L309.49,240.36L311.65,240.36L313.81,240.07L315.97,239.51L317.62,238.86L318.12,238.68L320.28,237.66L321.92,236.67L322.44,236.36L324.60,234.84L325.04,234.48L326.76,233.05L327.58,232.28L328.92,230.97L329.74,230.09L331.08,228.55L331.62,227.90L333.24,225.70L333.24,225.70L334.70,223.51L335.40,222.27L335.95,221.32L337.02,219.13L337.56,217.79L337.93,216.93L338.68,214.74L339.23,212.55L339.60,210.35L339.72,208.70L339.77,208.16L339.72,206.32L339.71,205.97L339.38,203.77L338.68,201.58L337.56,199.56L337.44,199.39L335.40,197.35L335.15,197.19L333.24,196.19L331.08,195.61L328.92,195.46L326.76,195.65L324.60,196.11L322.44,196.86L321.72,197.19L320.28,197.83L318.12,199.05L317.62,199.39L315.97,200.49L314.58,201.58L313.81,202.20L312.07,203.77L311.65,204.18L309.93,205.97L309.49,206.46L308.06,208.16L307.33,209.13L306.42,210.35L305.17,212.32L305.02,212.55L303.76,214.74L303.01,216.35L302.72,216.93L301.82,219.13L301.13,221.32L300.85,222.56L300.60,223.51L300.24,225.70L300.09,227.90L300.16,230.09L300.49,232.28L300.85,233.50L301.17,234.48L302.40,236.67L303.01,237.42Z M253.11,234.48L253.33,234.57L255.49,235.00L257.65,234.94L259.81,234.48L259.83,234.48L261.97,233.70L264.13,232.57L264.56,232.28L266.29,231.13L267.55,230.09L268.45,229.33L269.90,227.90L270.61,227.15L271.84,225.70L272.77,224.49L273.47,223.51L274.84,221.32L274.93,221.14L275.97,219.13L276.87,216.93L277.09,216.23L277.56,214.74L278.00,212.55L278.17,210.35L278.03,208.16L277.50,205.97L277.09,205.06L276.31,203.77L274.93,202.35L273.62,201.58L272.77,201.19L270.61,200.79L268.45,200.87L266.29,201.33L265.64,201.58L264.13,202.14L261.97,203.26L261.20,203.77L259.81,204.70L258.25,205.97L257.65,206.48L255.94,208.16L255.49,208.64L254.04,210.35L253.33,211.30L252.44,212.55L251.17,214.64L251.11,214.74L250.02,216.93L249.15,219.13L249.01,219.60L248.50,221.32L248.10,223.51L247.96,225.70L248.13,227.90L248.72,230.09L249.01,230.70L250.04,232.28L251.17,233.40Z M188.20,379.22L188.54,379.41L190.70,380.23L192.86,380.64L195.02,380.73L197.18,380.57L199.34,380.17L201.50,379.54L202.29,379.22L203.66,378.73L205.82,377.74L207.05,377.03L207.98,376.53L210.13,375.14L210.55,374.83L212.29,373.58L213.44,372.64L214.45,371.80L215.93,370.45L216.61,369.80L218.14,368.25L218.77,367.57L220.13,366.06L220.93,365.07L221.92,363.87L223.09,362.23L223.51,361.67L224.95,359.48L225.25,358.94L226.27,357.29L227.35,355.10L227.41,354.96L228.40,352.90L229.22,350.71L229.57,349.49L229.91,348.52L230.48,346.32L230.88,344.13L231.13,341.94L231.23,339.74L231.17,337.55L230.94,335.36L230.48,333.16L229.71,330.97L229.57,330.69L228.50,328.78L227.41,327.46L226.41,326.59L225.25,325.78L223.09,324.83L221.22,324.39L220.93,324.33L218.77,324.10L216.61,324.14L214.68,324.39L214.45,324.42L212.29,324.85L210.13,325.48L207.98,326.38L207.57,326.59L205.82,327.40L203.66,328.70L203.55,328.78L201.50,330.12L200.42,330.97L199.34,331.80L197.78,333.16L197.18,333.70L195.48,335.36L195.02,335.82L193.42,337.55L192.86,338.20L191.56,339.74L190.70,340.88L189.89,341.94L188.54,343.95L188.42,344.13L187.03,346.32L186.38,347.54L185.82,348.52L184.74,350.71L184.22,352.01L183.81,352.90L182.99,355.10L182.35,357.29L182.06,358.62L181.83,359.48L181.44,361.67L181.22,363.87L181.19,366.06L181.35,368.25L181.76,370.45L182.06,371.42L182.45,372.64L183.53,374.83L184.22,375.82L185.24,377.03L186.38,378.06Z M251.52,368.25L253.33,369.15L255.49,369.57L257.65,369.49L259.81,369.03L261.88,368.25L261.97,368.22L264.13,367.10L265.69,366.06L266.29,365.65L268.45,363.88L268.46,363.87L270.61,361.71L270.64,361.67L272.45,359.48L272.77,359.04L273.96,357.29L274.93,355.63L275.23,355.10L276.26,352.90L277.07,350.71L277.09,350.65L277.66,348.52L277.99,346.32L278.05,344.13L277.76,341.94L277.09,339.93L277.01,339.74L275.36,337.55L274.93,337.16L272.77,335.99L270.61,335.55L268.45,335.60L266.29,336.05L264.13,336.84L262.76,337.55L261.97,337.96L259.81,339.39L259.37,339.74L257.65,341.16L256.84,341.94L255.49,343.31L254.77,344.13L253.33,345.93L253.03,346.32L251.58,348.52L251.17,349.26L250.37,350.71L249.41,352.90L249.01,354.09L248.66,355.10L248.17,357.29L247.93,359.48L248.00,361.67L248.43,363.87L249.01,365.28L249.42,366.06L251.17,368.02Z M244.59,315.62L244.69,315.66L246.85,316.16L249.01,316.38L251.17,316.36L253.33,316.14L255.49,315.71L255.79,315.62L257.65,315.16L259.81,314.42L261.93,313.43L261.97,313.41L264.13,312.34L265.87,311.23L266.29,310.99L268.45,309.50L269.02,309.04L270.61,307.83L271.72,306.85L272.77,305.94L274.11,304.66L274.93,303.85L276.26,302.46L277.09,301.55L278.22,300.27L279.25,299.00L280.01,298.08L281.41,296.15L281.61,295.88L283.12,293.69L283.57,292.93L284.49,291.50L285.65,289.30L285.73,289.14L286.79,287.11L287.68,284.92L287.89,284.32L288.52,282.72L289.20,280.53L289.70,278.34L290.05,276.20L290.06,276.15L290.34,273.95L290.45,271.76L290.40,269.57L290.16,267.37L290.05,266.82L289.74,265.18L289.06,262.99L288.00,260.79L287.89,260.61L286.43,258.60L285.73,257.87L283.83,256.41L283.57,256.24L281.41,255.20L279.25,254.60L277.09,254.32L274.93,254.28L272.77,254.45L270.61,254.81L268.45,255.37L266.29,256.16L265.76,256.41L264.13,257.08L261.97,258.22L261.36,258.60L259.81,259.49L257.98,260.79L257.65,261.01L255.49,262.67L255.12,262.99L253.33,264.50L252.60,265.18L251.17,266.54L250.34,267.37L249.01,268.78L248.29,269.57L246.85,271.26L246.42,271.76L244.73,273.95L244.69,274.00L243.09,276.15L242.53,277.04L241.63,278.34L240.41,280.53L240.37,280.61L239.18,282.72L238.27,284.92L238.21,285.08L237.35,287.11L236.68,289.30L236.20,291.50L236.05,292.39L235.79,293.69L235.51,295.88L235.38,298.08L235.39,300.27L235.56,302.46L235.90,304.66L236.05,305.29L236.41,306.85L237.20,309.04L238.21,310.91L238.42,311.23L240.37,313.40L240.41,313.43L242.53,314.84Z M191.34,304.66L192.86,305.61L195.02,306.36L197.18,306.63L199.34,306.54L201.50,306.14L203.66,305.46L205.42,304.66L205.82,304.48L207.98,303.29L209.19,302.46L210.13,301.82L212.07,300.27L212.29,300.08L214.45,298.08L214.45,298.08L216.52,295.88L216.61,295.77L218.34,293.69L218.77,293.09L219.93,291.50L220.93,289.86L221.29,289.30L222.47,287.11L223.09,285.62L223.42,284.92L224.20,282.72L224.73,280.53L225.06,278.34L225.18,276.15L225.06,273.95L224.67,271.76L223.89,269.57L223.09,268.17L222.52,267.37L220.93,265.82L219.91,265.18L218.77,264.60L216.61,264.01L214.45,263.87L212.29,264.07L210.13,264.58L208.51,265.18L207.98,265.36L205.82,266.38L204.16,267.37L203.66,267.67L201.50,269.20L201.05,269.57L199.34,271.01L198.55,271.76L197.18,273.13L196.42,273.95L195.02,275.62L194.60,276.15L193.02,278.34L192.86,278.59L191.63,280.53L190.70,282.28L190.45,282.72L189.44,284.92L188.63,287.11L188.54,287.44L187.97,289.30L187.51,291.50L187.26,293.69L187.25,295.88L187.50,298.08L188.12,300.27L188.54,301.19L189.25,302.46L190.70,304.15Z M313.50,295.88L313.81,296.02L315.97,296.24L317.90,295.88L318.12,295.84L320.28,294.87L322.12,293.69L322.44,293.47L324.60,291.52L324.63,291.50L326.41,289.30L326.76,288.79L327.78,287.11L328.83,284.92L328.92,284.62L329.48,282.72L329.76,280.53L329.58,278.34L328.92,276.58L328.65,276.15L326.76,274.63L324.60,274.15L322.44,274.45L320.28,275.27L318.78,276.15L318.12,276.56L315.97,278.34L315.97,278.34L314.02,280.53L313.81,280.81L312.54,282.72L311.65,284.42L311.40,284.92L310.66,287.11L310.28,289.30L310.33,291.50L311.04,293.69L311.65,294.56Z M308.88,234.48L309.49,234.79L311.65,235.32L313.81,235.35L315.97,234.98L317.49,234.48L318.12,234.27L320.28,233.27L321.89,232.28L322.44,231.94L324.60,230.31L324.85,230.09L326.76,228.32L327.17,227.90L328.92,225.92L329.10,225.70L330.71,223.51L331.08,222.92L332.07,221.32L333.20,219.13L333.24,219.02L334.12,216.93L334.81,214.74L335.27,212.55L335.40,211.21L335.49,210.35L335.42,208.16L335.40,208.09L334.94,205.97L333.91,203.77L333.24,202.90L331.70,201.58L331.08,201.20L328.92,200.48L326.76,200.32L324.60,200.59L322.44,201.21L321.60,201.58L320.28,202.15L318.12,203.38L317.57,203.77L315.97,204.94L314.76,205.97L313.81,206.83L312.50,208.16L311.65,209.12L310.63,210.35L309.49,211.92L309.05,212.55L307.73,214.74L307.33,215.55L306.63,216.93L305.77,219.13L305.17,221.15L305.11,221.32L304.68,223.51L304.52,225.70L304.65,227.90L305.15,230.09L305.17,230.12L306.32,232.28L307.33,233.42Z M255.19,225.70L255.49,226.12L257.65,227.53L259.81,227.68L261.97,227.10L264.13,226.00L264.53,225.70L266.29,224.29L267.06,223.51L268.45,221.91L268.89,221.32L270.21,219.13L270.61,218.23L271.13,216.93L271.65,214.74L271.71,212.55L271.12,210.35L270.61,209.57L268.61,208.16L268.45,208.09L266.29,207.98L265.57,208.16L264.13,208.56L261.97,209.69L261.07,210.35L259.81,211.38L258.68,212.55L257.65,213.77L256.96,214.74L255.69,216.93L255.49,217.41L254.85,219.13L254.41,221.32L254.45,223.51Z M191.78,377.03L192.86,377.37L195.02,377.68L197.18,377.65L199.34,377.34L200.50,377.03L201.50,376.79L203.66,376.03L205.82,375.01L206.13,374.83L207.98,373.83L209.76,372.64L210.13,372.39L212.29,370.76L212.66,370.45L214.45,368.90L215.13,368.25L216.61,366.76L217.27,366.06L218.77,364.32L219.16,363.87L220.82,361.67L220.93,361.51L222.34,359.48L223.09,358.20L223.66,357.29L224.81,355.10L225.25,354.07L225.81,352.90L226.65,350.71L227.30,348.52L227.41,348.00L227.84,346.32L228.20,344.13L228.38,341.94L228.37,339.74L228.13,337.55L227.62,335.36L227.41,334.79L226.75,333.16L225.30,330.97L225.25,330.92L223.09,329.06L222.56,328.78L220.93,328.02L218.77,327.48L216.61,327.31L214.45,327.43L212.29,327.79L210.13,328.42L209.24,328.78L207.98,329.24L205.82,330.28L204.67,330.97L203.66,331.55L201.50,333.06L201.36,333.16L199.34,334.75L198.66,335.36L197.18,336.71L196.35,337.55L195.02,338.96L194.32,339.74L192.86,341.53L192.53,341.94L190.94,344.13L190.70,344.51L189.50,346.32L188.54,348.05L188.27,348.52L187.15,350.71L186.38,352.58L186.23,352.90L185.41,355.10L184.78,357.29L184.32,359.48L184.22,360.29L184.01,361.67L183.88,363.87L183.98,366.06L184.22,367.60L184.32,368.25L184.98,370.45L186.09,372.64L186.38,373.06L187.94,374.83L188.54,375.35L190.70,376.65Z M257.58,363.87L257.65,363.89L258.13,363.87L259.81,363.80L261.97,363.14L264.13,362.03L264.62,361.67L266.29,360.40L267.26,359.48L268.45,358.21L269.20,357.29L270.61,355.24L270.70,355.10L271.77,352.90L272.56,350.71L272.77,349.67L272.98,348.52L272.98,346.32L272.77,345.40L272.34,344.13L270.61,342.08L270.31,341.94L268.45,341.34L266.29,341.39L264.37,341.94L264.13,342.01L261.97,343.15L260.60,344.13L259.81,344.75L258.19,346.32L257.65,346.92L256.41,348.52L255.49,349.92L255.02,350.71L254.02,352.90L253.33,355.06L253.32,355.10L253.03,357.29L253.18,359.48L253.33,359.99L254.11,361.67L255.49,363.07Z M251.14,313.43L251.17,313.43L251.22,313.43L253.33,313.34L255.49,313.03L257.65,312.51L259.81,311.77L260.97,311.23L261.97,310.83L264.13,309.71L265.19,309.04L266.29,308.39L268.41,306.85L268.45,306.82L270.61,305.12L271.14,304.66L272.77,303.19L273.50,302.46L274.93,301.00L275.61,300.27L277.09,298.55L277.48,298.08L279.16,295.88L279.25,295.76L280.73,293.69L281.41,292.59L282.11,291.50L283.32,289.30L283.57,288.78L284.44,287.11L285.36,284.92L285.73,283.83L286.16,282.72L286.84,280.53L287.34,278.34L287.68,276.15L287.87,273.95L287.89,272.60L287.90,271.76L287.89,271.56L287.75,269.57L287.38,267.37L286.71,265.18L285.73,263.15L285.64,262.99L283.98,260.79L283.57,260.38L281.41,258.78L281.03,258.60L279.25,257.81L277.09,257.27L274.93,257.07L272.77,257.14L270.61,257.44L268.45,257.98L266.72,258.60L266.29,258.74L264.13,259.63L261.98,260.79L261.97,260.80L259.81,262.07L258.53,262.99L257.65,263.59L255.68,265.18L255.49,265.33L253.33,267.25L253.21,267.37L251.17,269.40L251.01,269.57L249.06,271.76L249.01,271.81L247.26,273.95L246.85,274.51L245.63,276.15L244.69,277.62L244.20,278.34L242.92,280.53L242.53,281.31L241.76,282.72L240.79,284.92L240.37,286.09L239.95,287.11L239.24,289.30L238.72,291.50L238.35,293.69L238.21,295.12L238.12,295.88L238.04,298.08L238.14,300.27L238.21,300.77L238.44,302.46L238.97,304.66L239.85,306.85L240.37,307.76L241.24,309.04L242.53,310.42L243.59,311.23L244.69,311.94L246.85,312.82L249.01,313.28Z M193.60,300.27L195.02,301.34L197.18,302.17L199.34,302.38L201.50,302.14L203.66,301.55L205.82,300.63L206.44,300.27L207.98,299.39L209.81,298.08L210.13,297.83L212.29,295.94L212.35,295.88L214.42,293.69L214.45,293.65L216.15,291.50L216.61,290.82L217.62,289.30L218.77,287.19L218.82,287.11L219.80,284.92L220.54,282.72L220.93,280.97L221.04,280.53L221.29,278.34L221.24,276.15L220.93,274.47L220.82,273.95L219.85,271.76L218.77,270.36L217.83,269.57L216.61,268.83L214.45,268.19L212.29,268.11L210.13,268.44L207.98,269.12L207.02,269.57L205.82,270.12L203.66,271.44L203.22,271.76L201.50,273.08L200.52,273.95L199.34,275.09L198.35,276.15L197.18,277.53L196.54,278.34L195.03,280.53L195.02,280.56L193.77,282.72L192.86,284.67L192.74,284.92L191.93,287.11L191.35,289.30L191.01,291.50L190.95,293.69L191.23,295.88L192.00,298.08L192.86,299.46Z M310.78,227.90L311.65,228.77L313.81,229.76L315.97,229.85L318.12,229.34L320.28,228.40L321.08,227.90L322.44,226.99L323.96,225.70L324.60,225.10L326.04,223.51L326.76,222.59L327.65,221.32L328.92,219.13L328.92,219.13L329.82,216.93L330.42,214.74L330.68,212.55L330.48,210.35L329.59,208.16L328.92,207.33L326.76,205.99L326.61,205.97L324.60,205.76L323.36,205.97L322.44,206.12L320.28,206.99L318.30,208.16L318.12,208.27L315.97,210.04L315.65,210.35L313.81,212.37L313.66,212.55L312.15,214.74L311.65,215.63L310.97,216.93L310.11,219.13L309.54,221.32L309.49,222.02L309.37,223.51L309.49,224.57L309.66,225.70Z M191.75,372.64L192.86,373.27L195.02,373.95L197.18,374.17L199.34,374.03L201.50,373.58L203.66,372.85L204.11,372.64L205.82,371.89L207.98,370.66L208.29,370.45L210.13,369.20L211.33,368.25L212.29,367.47L213.82,366.06L214.45,365.44L215.93,363.87L216.61,363.08L217.76,361.67L218.77,360.29L219.35,359.48L220.72,357.29L220.93,356.90L221.93,355.10L222.92,352.90L223.09,352.42L223.76,350.71L224.41,348.52L224.86,346.32L225.12,344.13L225.16,341.94L224.94,339.74L224.39,337.55L223.36,335.36L223.09,334.96L221.46,333.16L220.93,332.74L218.77,331.61L216.61,331.08L214.45,330.97L212.29,331.19L210.13,331.70L207.98,332.48L206.57,333.16L205.82,333.52L203.66,334.79L202.86,335.36L201.50,336.33L200.03,337.55L199.34,338.14L197.68,339.74L197.18,340.26L195.67,341.94L195.02,342.73L193.92,344.13L192.86,345.67L192.41,346.32L191.09,348.52L190.70,349.29L189.95,350.71L189.01,352.90L188.54,354.26L188.23,355.10L187.62,357.29L187.22,359.48L187.02,361.67L187.06,363.87L187.38,366.06L188.08,368.25L188.54,369.17L189.35,370.45L190.70,371.89Z M247.32,309.04L249.01,309.72L251.17,310.16L253.33,310.24L255.49,310.04L257.65,309.57L259.23,309.04L259.81,308.86L261.97,307.98L264.07,306.85L264.13,306.82L266.29,305.51L267.45,304.66L268.45,303.94L270.21,302.46L270.61,302.12L272.56,300.27L272.77,300.06L274.62,298.08L274.93,297.72L276.45,295.88L277.09,295.03L278.08,293.69L279.25,291.86L279.49,291.50L280.77,289.30L281.41,288.00L281.87,287.11L282.83,284.92L283.57,282.77L283.58,282.72L284.25,280.53L284.73,278.34L285.02,276.15L285.13,273.95L285.03,271.76L284.68,269.57L284.01,267.37L283.57,266.44L282.88,265.18L281.41,263.36L281.00,262.99L279.25,261.72L277.09,260.80L277.04,260.79L274.93,260.34L272.77,260.24L270.61,260.44L269.00,260.79L268.45,260.90L266.29,261.56L264.13,262.48L263.18,262.99L261.97,263.60L259.81,264.95L259.49,265.18L257.65,266.49L256.58,267.37L255.49,268.28L254.11,269.57L253.33,270.33L251.96,271.76L251.17,272.65L250.07,273.95L249.01,275.33L248.39,276.15L246.92,278.34L246.85,278.45L245.57,280.53L244.69,282.25L244.44,282.72L243.42,284.92L242.62,287.11L242.53,287.42L241.92,289.30L241.40,291.50L241.06,293.69L240.91,295.88L240.94,298.08L241.21,300.27L241.77,302.46L242.53,304.25L242.73,304.66L244.31,306.85L244.69,307.24L246.85,308.83Z M198.79,295.88L199.34,296.18L201.50,296.55L203.66,296.26L204.64,295.88L205.82,295.42L207.98,294.12L208.53,293.69L210.13,292.31L210.92,291.50L212.29,289.88L212.73,289.30L214.10,287.11L214.45,286.38L215.11,284.92L215.77,282.72L216.08,280.53L215.92,278.34L215.06,276.15L214.45,275.38L212.29,274.07L211.17,273.95L210.13,273.87L209.75,273.95L207.98,274.33L205.82,275.28L204.45,276.15L203.66,276.69L201.78,278.34L201.50,278.62L199.87,280.53L199.34,281.27L198.41,282.72L197.27,284.92L197.18,285.18L196.53,287.11L196.12,289.30L196.13,291.50L196.73,293.69L197.18,294.43Z M198.89,368.25L199.34,368.32L200.23,368.25L201.50,368.16L203.66,367.60L205.82,366.69L206.90,366.06L207.98,365.43L210.08,363.87L210.13,363.83L212.29,361.83L212.44,361.67L214.35,359.48L214.45,359.35L215.93,357.29L216.61,356.15L217.23,355.10L218.27,352.90L218.77,351.54L219.08,350.71L219.63,348.52L219.92,346.32L219.88,344.13L219.45,341.94L218.77,340.40L218.37,339.74L216.61,338.03L215.64,337.55L214.45,337.10L212.29,336.87L210.13,337.12L208.71,337.55L207.98,337.77L205.82,338.76L204.22,339.74L203.66,340.10L201.50,341.79L201.33,341.94L199.34,343.89L199.11,344.13L197.30,346.32L197.18,346.50L195.82,348.52L195.02,349.92L194.58,350.71L193.61,352.90L192.87,355.10L192.86,355.14L192.38,357.29L192.18,359.48L192.31,361.67L192.86,363.81L192.88,363.87L194.27,366.06L195.02,366.78L197.18,367.95Z M251.11,304.66L251.17,304.68L253.33,305.22L255.49,305.31L257.65,305.04L259.02,304.66L259.81,304.45L261.97,303.60L264.13,302.46L264.13,302.46L266.29,301.08L267.35,300.27L268.45,299.41L269.92,298.08L270.61,297.42L272.07,295.88L272.77,295.08L273.90,293.69L274.93,292.28L275.48,291.50L276.83,289.30L277.09,288.81L278.00,287.11L278.94,284.92L279.25,284.03L279.72,282.72L280.30,280.53L280.67,278.34L280.80,276.15L280.68,273.95L280.21,271.76L279.29,269.57L279.25,269.49L277.52,267.37L277.09,267.00L274.93,265.78L272.77,265.22L271.77,265.18L270.61,265.13L270.25,265.18L268.45,265.40L266.29,265.97L264.13,266.83L263.09,267.37L261.97,267.95L259.81,269.35L259.52,269.57L257.65,271.01L256.81,271.76L255.49,272.99L254.56,273.95L253.33,275.32L252.64,276.15L251.17,278.10L251.00,278.34L249.58,280.53L249.01,281.56L248.37,282.72L247.36,284.92L246.85,286.30L246.54,287.11L245.90,289.30L245.48,291.50L245.28,293.69L245.33,295.88L245.69,298.08L246.47,300.27L246.85,300.96L247.95,302.46L249.01,303.46Z M201.07,359.48L201.50,359.76L203.66,360.00L205.47,359.48L205.82,359.37L207.98,357.91L208.65,357.29L210.13,355.65L210.54,355.10L211.75,352.90L212.29,351.35L212.49,350.71L212.60,348.52L212.29,347.42L211.67,346.32L210.13,345.34L207.98,345.31L205.82,346.10L205.49,346.32L203.66,347.72L202.88,348.52L201.50,350.23L201.18,350.71L200.13,352.90L199.53,355.10L199.61,357.29Z M252.54,298.08L253.33,298.72L255.49,299.59L257.65,299.75L259.81,299.40L261.97,298.65L263.09,298.08L264.13,297.53L266.29,296.04L266.47,295.88L268.45,294.13L268.88,293.69L270.61,291.73L270.80,291.50L272.34,289.30L272.77,288.58L273.60,287.11L274.58,284.92L274.93,283.89L275.31,282.72L275.76,280.53L275.89,278.34L275.65,276.15L274.93,274.08L274.86,273.95L272.88,271.76L272.77,271.68L270.61,270.84L268.45,270.68L266.29,271.02L264.13,271.76L264.13,271.76L261.97,272.89L260.42,273.95L259.81,274.39L257.80,276.15L257.65,276.28L255.77,278.34L255.49,278.69L254.14,280.53L253.33,281.82L252.80,282.72L251.75,284.92L251.17,286.48L250.94,287.11L250.42,289.30L250.20,291.50L250.33,293.69L250.94,295.88L251.17,296.32Z"/>
</g>
<path class="k" stroke-linecap="square" clip-path="url(#cx)" d="M58.19,85.09L60.25,85.08L62.31,85.06L64.36,85.04L66.42,85.01L68.48,84.96L70.54,84.90L72.60,84.82L74.66,84.73L76.72,84.62L78.78,84.49L80.84,84.36L82.89,84.22L84.95,84.10L87.01,84.00L89.07,83.92L91.13,83.88L93.19,83.89L95.25,83.93L97.31,84.01L99.37,84.11L101.43,84.24L103.48,84.37L105.54,84.50L107.60,84.62L109.66,84.73L111.72,84.81L113.78,84.87L115.84,84.89L117.90,84.89L119.96,84.84L122.01,84.75L124.07,84.60L126.13,84.38L128.19,84.08L130.25,83.70L132.31,83.24L134.37,82.70L136.43,82.11L138.49,81.49L140.54,80.89L142.60,80.35L144.66,79.92L146.72,79.63L148.78,79.51L150.84,79.58L152.90,79.82L154.96,80.22L157.02,80.74L159.07,81.32L161.13,81.93L163.19,82.51L165.25,83.02L167.31,83.43L169.37,83.70L171.43,83.79L173.49,83.65L175.55,83.22L177.61,82.42L179.66,81.15L181.72,79.27L183.78,76.68L185.84,73.27L187.90,68.99L189.96,63.87L192.02,58.02L194.08,51.70L196.14,45.23L198.19,39.08L200.25,33.71L202.31,29.60L204.37,27.11L206.43,26.50L208.49,27.82L210.55,30.94L212.61,35.57L214.67,41.28L216.72,47.60L218.78,54.04L220.84,60.20L222.90,65.74L224.96,70.45L227.02,74.22L229.08,77.01L231.14,78.82L233.20,79.67L235.25,79.57L237.31,78.49L239.37,76.38L241.43,73.18L243.49,68.83L245.55,63.34L247.61,56.81L249.67,49.44L251.73,41.58L253.78,33.71L255.84,26.40L257.90,20.24L259.96,15.78L262.02,13.43L264.08,13.43L266.14,15.78L268.20,20.24L270.26,26.40L272.32,33.72L274.37,41.59L276.43,49.46L278.49,56.84L280.55,63.41L282.61,68.96L284.67,73.40L286.73,76.78L288.79,79.16L290.85,80.66L292.90,81.39L294.96,81.44L297.02,80.87L299.08,79.73L301.14,78.06L303.20,75.89L305.26,73.31L307.32,70.42L309.38,67.38L311.43,64.41L313.49,61.71L315.55,59.53L317.61,58.05L319.67,57.43L321.73,57.72L323.79,58.89L325.85,60.83L327.91,63.37L329.96,66.28L332.02,69.33L334.08,72.31L336.14,75.07L338.20,77.49L340.26,79.51L342.32,81.11L344.38,82.32L346.44,83.19L348.49,83.77L350.55,84.12L352.61,84.27L354.67,84.27L356.73,84.14L358.79,83.90L360.85,83.57L362.91,83.18L364.97,82.74L367.03,82.29L369.08,81.85L371.14,81.47L373.20,81.17L375.26,80.98L377.32,80.93L379.38,81.02L381.44,81.24L383.50,81.56L385.56,81.96L387.61,82.41L389.67,82.87L391.73,83.31L393.79,83.71L395.85,84.06L397.91,84.34L399.97,84.57L402.03,84.74L404.09,84.86L406.14,84.94L408.20,84.99L410.26,85.02L412.32,85.04L414.38,85.04L416.44,85.04L418.50,85.02L420.56,85.01L422.62,84.99L424.67,84.97L426.73,84.95L428.79,84.93L430.85,84.92L432.91,84.91L434.97,84.91L437.03,84.92L439.09,84.93L441.15,84.95L443.21,84.97L445.26,84.99L447.32,85.01L449.38,85.03L451.44,85.04L453.50,85.06L455.56,85.07L457.62,85.08L459.68,85.09L461.74,85.09L463.79,85.09L465.85,85.10L467.91,85.10"/>
<path class="k" stroke-linecap="square" clip-path="url(#cy)" d="M492.77,525.84L492.77,523.76L492.77,521.68L492.77,519.60L492.78,517.52L492.78,515.44L492.78,513.36L492.79,511.28L492.80,509.20L492.80,507.12L492.81,505.04L492.82,502.96L492.83,500.88L492.84,498.80L492.85,496.72L492.86,494.64L492.87,492.56L492.88,490.48L492.88,488.40L492.88,486.32L492.88,484.24L492.87,482.16L492.86,480.08L492.85,478.00L492.84,475.92L492.83,473.85L492.82,471.77L492.81,469.69L492.81,467.61L492.80,465.53L492.80,463.45L492.81,461.37L492.82,459.29L492.84,457.21L492.87,455.13L492.92,453.05L492.99,450.97L493.08,448.89L493.22,446.81L493.39,444.73L493.60,442.65L493.86,440.57L494.17,438.49L494.52,436.41L494.89,434.33L495.28,432.25L495.67,430.17L496.02,428.09L496.33,426.01L496.56,423.93L496.70,421.85L496.74,419.77L496.67,417.69L496.51,415.61L496.26,413.53L495.94,411.46L495.58,409.38L495.20,407.30L494.82,405.22L494.46,403.14L494.13,401.06L493.87,398.98L493.67,396.90L493.56,394.82L493.54,392.74L493.65,390.66L493.91,388.58L494.37,386.50L495.09,384.42L496.12,382.34L497.55,380.26L499.45,378.18L501.87,376.10L504.85,374.02L508.41,371.94L512.49,369.86L516.99,367.78L521.74,365.70L526.52,363.62L531.07,361.54L535.10,359.46L538.34,357.38L540.55,355.30L541.56,353.22L541.30,351.14L539.78,349.07L537.13,346.99L533.53,344.91L529.25,342.83L524.58,340.75L519.78,338.67L515.12,336.59L510.80,334.51L506.96,332.43L503.69,330.35L501.04,328.27L499.01,326.19L497.58,324.11L496.72,322.03L496.44,319.95L496.74,317.87L497.63,315.79L499.19,313.71L501.47,311.63L504.54,309.55L508.46,307.47L513.23,305.39L518.81,303.31L525.08,301.23L531.83,299.15L538.77,297.07L545.54,294.99L551.72,292.91L556.92,290.83L560.76,288.75L562.96,286.68L563.34,284.60L561.88,282.52L558.68,280.44L554.00,278.36L548.17,276.28L541.59,274.20L534.67,272.12L527.80,270.04L521.30,267.96L515.41,265.88L510.28,263.80L505.99,261.72L502.53,259.64L499.86,257.56L497.90,255.48L496.57,253.40L495.79,251.32L495.48,249.24L495.59,247.16L496.11,245.08L497.01,243.00L498.29,240.92L499.94,238.84L501.93,236.76L504.23,234.68L506.75,232.60L509.41,230.52L512.06,228.44L514.55,226.36L516.73,224.29L518.44,222.21L519.56,220.13L520.00,218.05L519.72,215.97L518.75,213.89L517.17,211.81L515.09,209.73L512.65,207.65L510.02,205.57L507.35,203.49L504.77,201.41L502.39,199.33L500.28,197.25L498.49,195.17L497.02,193.09L495.85,191.01L494.96,188.93L494.31,186.85L493.87,184.77L493.58,182.69L493.44,180.61L493.40,178.53L493.46,176.45L493.61,174.37L493.82,172.29L494.10,170.21L494.44,168.13L494.83,166.05L495.24,163.97L495.66,161.90L496.07,159.82L496.44,157.74L496.74,155.66L496.96,153.58L497.08,151.50L497.08,149.42L496.97,147.34L496.76,145.26L496.46,143.18L496.09,141.10L495.68,139.02L495.26,136.94L494.84,134.86L494.45,132.78L494.09,130.70L493.79,128.62L493.53,126.54L493.33,124.46L493.16,122.38L493.04,120.30L492.95,118.22L492.89,116.14L492.85,114.06L492.82,111.98"/>
<g><rect class="ax" x="47.945" y="100" width="1.11" height="438"/><rect class="ax" x="48" y="536.945" width="431" height="1.11"/><rect class="ax" x="48" y="84.945" width="431" height="1.11"/><rect class="ax" x="492.945" y="100" width="1.11" height="438"/><rect class="ax" x="91.945" y="537.5" width="1.11" height="5"/><rect class="ax" x="91.945" y="85.5" width="1.11" height="5"/><rect class="ax" x="148.945" y="537.5" width="1.11" height="5"/><rect class="ax" x="148.945" y="85.5" width="1.11" height="5"/><rect class="ax" x="205.945" y="537.5" width="1.11" height="5"/><rect class="ax" x="205.945" y="85.5" width="1.11" height="5"/><rect class="ax" x="262.945" y="537.5" width="1.11" height="5"/><rect class="ax" x="262.945" y="85.5" width="1.11" height="5"/><rect class="ax" x="319.945" y="537.5" width="1.11" height="5"/><rect class="ax" x="319.945" y="85.5" width="1.11" height="5"/><rect class="ax" x="376.945" y="537.5" width="1.11" height="5"/><rect class="ax" x="376.945" y="85.5" width="1.11" height="5"/><rect class="ax" x="433.945" y="537.5" width="1.11" height="5"/><rect class="ax" x="433.945" y="85.5" width="1.11" height="5"/><rect class="ax" x="43.5" y="486.945" width="5" height="1.11"/><rect class="ax" x="488.5" y="486.945" width="5" height="1.11"/><rect class="ax" x="43.5" y="419.945" width="5" height="1.11"/><rect class="ax" x="488.5" y="419.945" width="5" height="1.11"/><rect class="ax" x="43.5" y="351.945" width="5" height="1.11"/><rect class="ax" x="488.5" y="351.945" width="5" height="1.11"/><rect class="ax" x="43.5" y="284.945" width="5" height="1.11"/><rect class="ax" x="488.5" y="284.945" width="5" height="1.11"/><rect class="ax" x="43.5" y="216.945" width="5" height="1.11"/><rect class="ax" x="488.5" y="216.945" width="5" height="1.11"/><rect class="ax" x="43.5" y="149.945" width="5" height="1.11"/><rect class="ax" x="488.5" y="149.945" width="5" height="1.11"/></g>
<g><text x="92.35" y="556.90" font-size="14.2" text-anchor="middle" textLength="8.8" lengthAdjust="spacingAndGlyphs">3</text><text x="149.35" y="556.90" font-size="14.2" text-anchor="middle" textLength="8.8" lengthAdjust="spacingAndGlyphs">4</text><text x="206.35" y="556.90" font-size="14.2" text-anchor="middle" textLength="8.8" lengthAdjust="spacingAndGlyphs">5</text><text x="263.35" y="556.90" font-size="14.2" text-anchor="middle" textLength="8.8" lengthAdjust="spacingAndGlyphs">6</text><text x="320.35" y="556.90" font-size="14.2" text-anchor="middle" textLength="8.8" lengthAdjust="spacingAndGlyphs">7</text><text x="377.35" y="556.90" font-size="14.2" text-anchor="middle" textLength="8.8" lengthAdjust="spacingAndGlyphs">8</text><text x="434.35" y="556.90" font-size="14.2" text-anchor="middle" textLength="8.8" lengthAdjust="spacingAndGlyphs">9</text><text x="38.90" y="491.72" font-size="14.2" text-anchor="end" textLength="8.8" lengthAdjust="spacingAndGlyphs">3</text><text x="38.90" y="424.31" font-size="14.2" text-anchor="end" textLength="8.8" lengthAdjust="spacingAndGlyphs">4</text><text x="38.90" y="356.91" font-size="14.2" text-anchor="end" textLength="8.8" lengthAdjust="spacingAndGlyphs">5</text><text x="38.90" y="289.51" font-size="14.2" text-anchor="end" textLength="8.8" lengthAdjust="spacingAndGlyphs">6</text><text x="38.90" y="222.11" font-size="14.2" text-anchor="end" textLength="8.8" lengthAdjust="spacingAndGlyphs">7</text><text x="38.90" y="154.70" font-size="14.2" text-anchor="end" textLength="8.8" lengthAdjust="spacingAndGlyphs">8</text><text x="263.40" y="576.80" font-size="14.6" text-anchor="middle" textLength="64" lengthAdjust="spacingAndGlyphs">expected</text><text transform="translate(20.60,320.00) rotate(-90)" font-size="14.6" text-anchor="middle" textLength="69.6" lengthAdjust="spacingAndGlyphs">prediction</text><text x="530.20" y="70.90" font-size="17.6" text-anchor="middle" textLength="252.6" lengthAdjust="spacingAndGlyphs">Distribution valeurs attendues</text><text x="530.00" y="91.00" font-size="17.6" text-anchor="middle" textLength="134.6" lengthAdjust="spacingAndGlyphs">valeurs prédites</text></g>
</svg></div></body></html>
